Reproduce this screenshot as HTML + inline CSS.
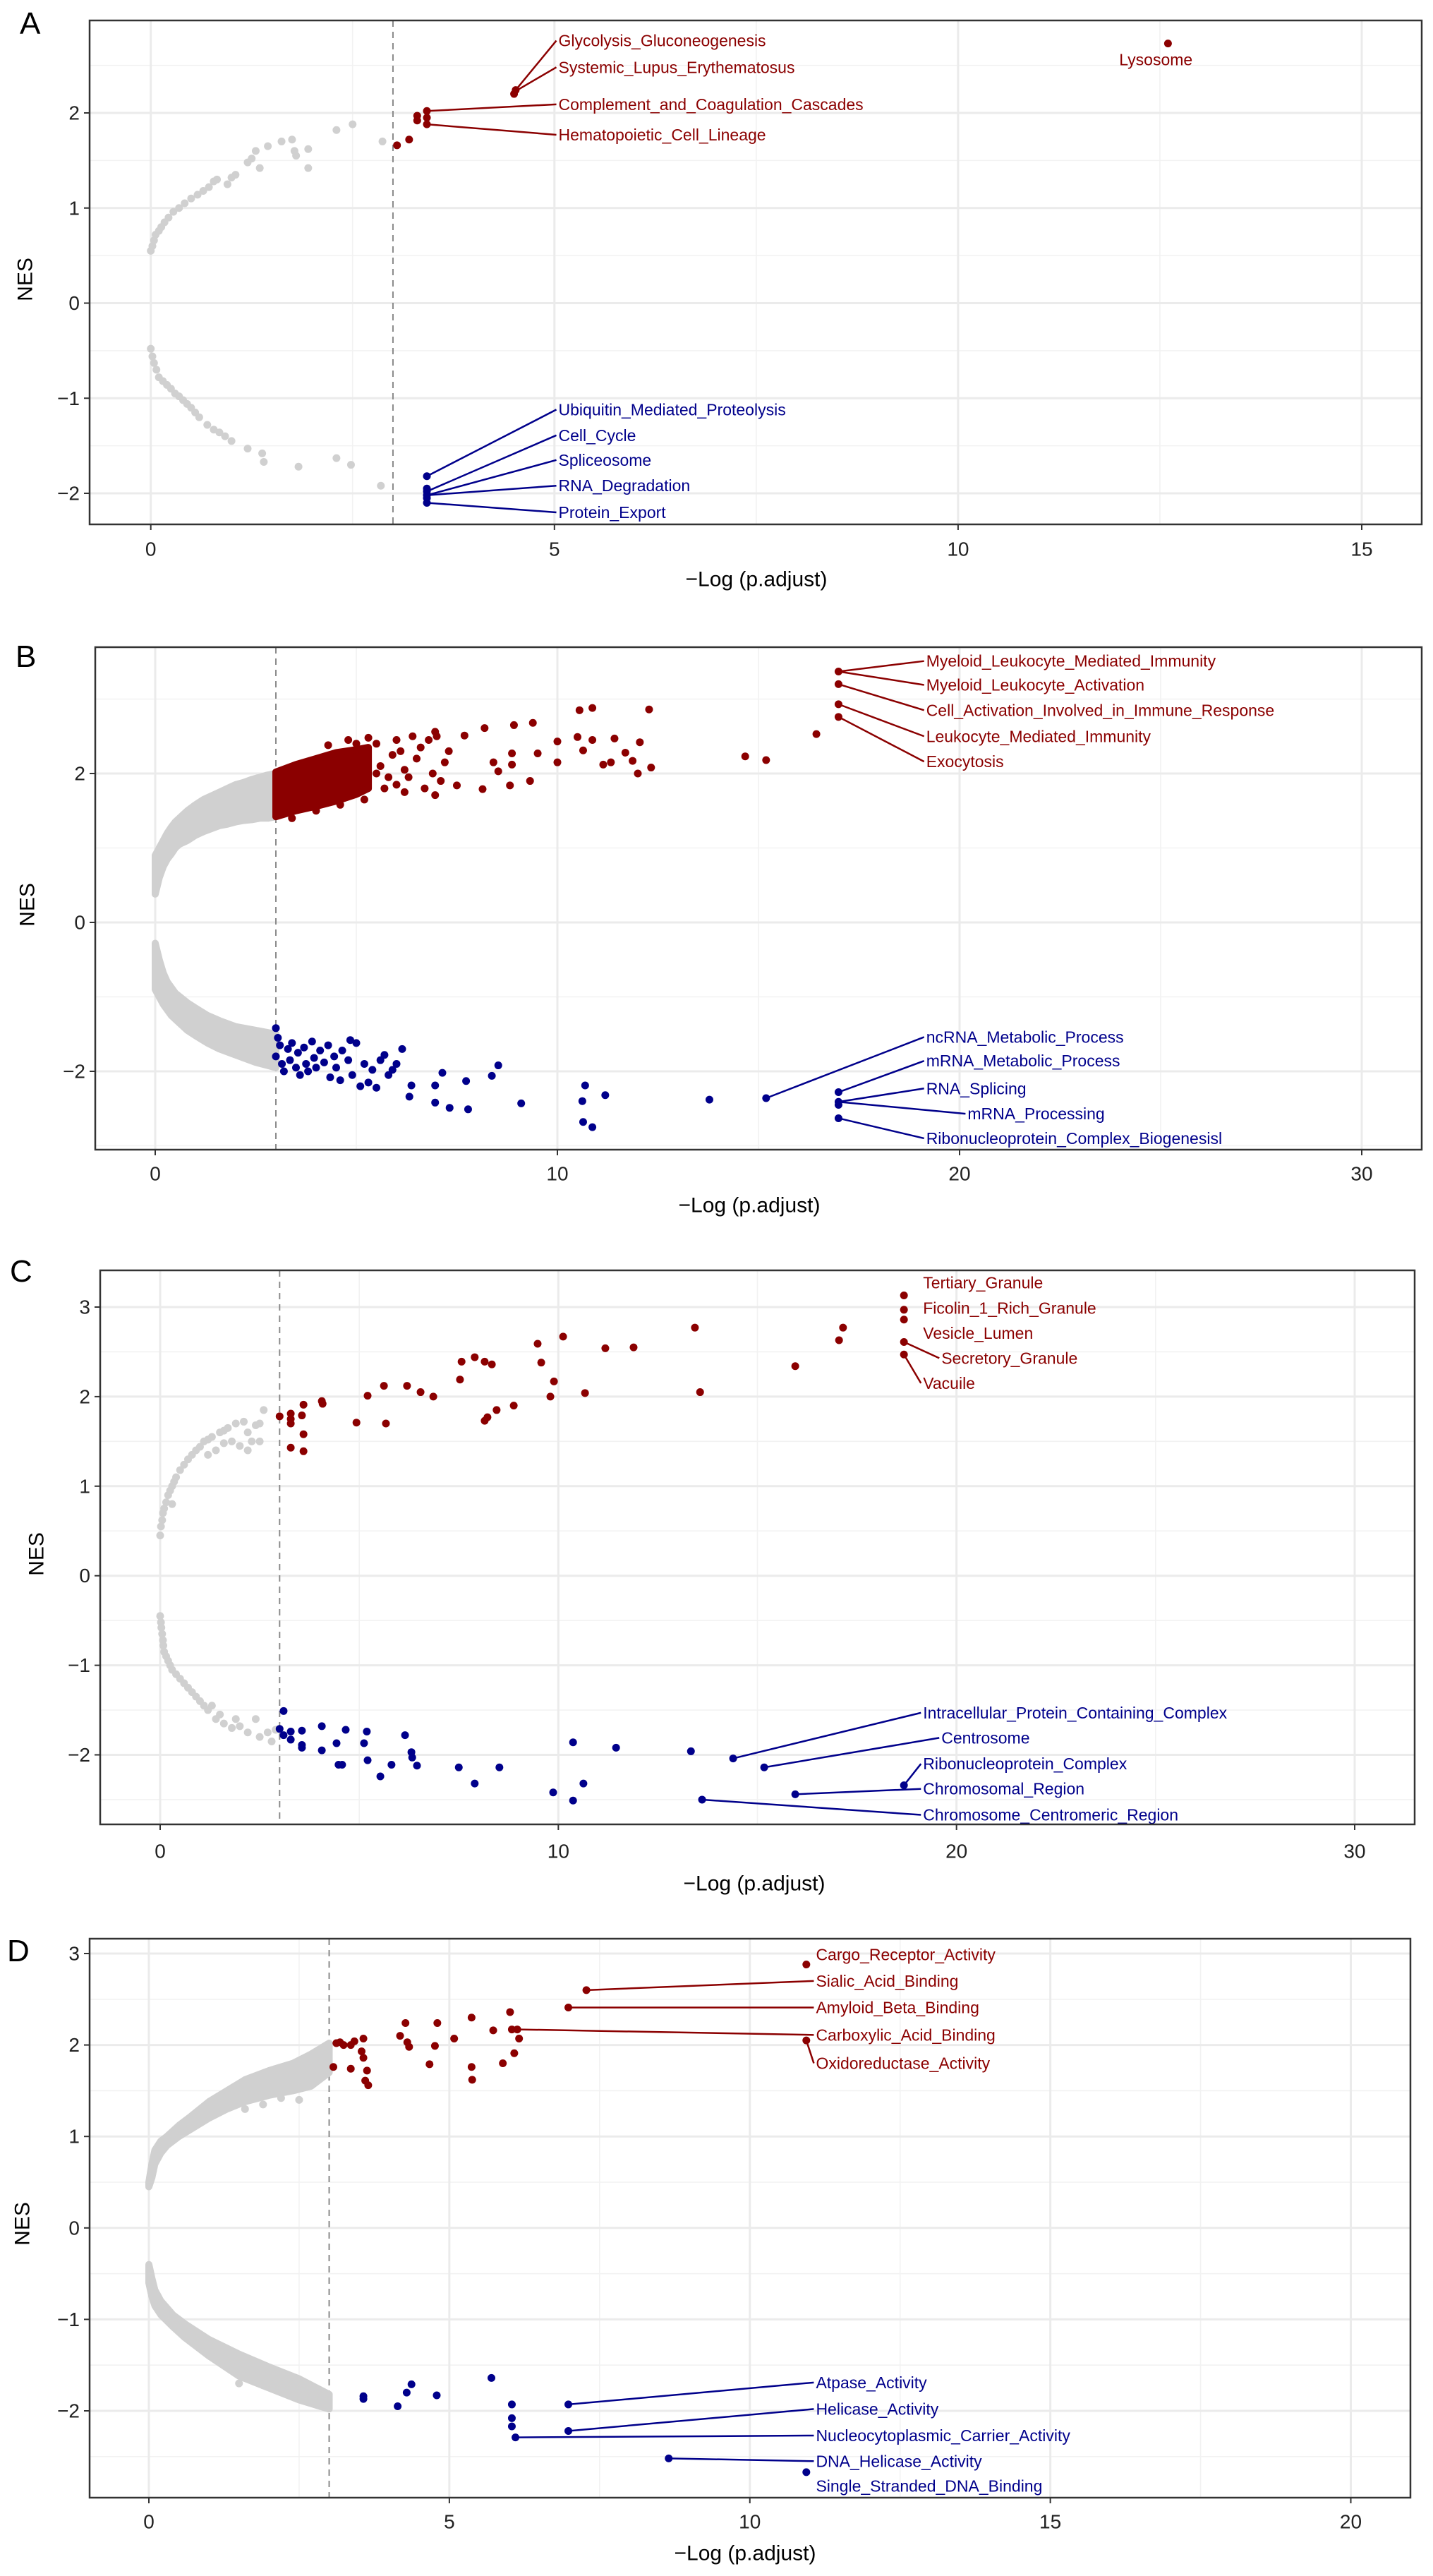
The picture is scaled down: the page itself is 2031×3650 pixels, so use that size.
<!DOCTYPE html>
<html><head><meta charset="utf-8">
<style>
html,body{margin:0;padding:0;background:#fff;}
svg{display:block;}
text{font-family:"Liberation Sans",Arial,sans-serif;}
</style></head>
<body>
<svg id="fig" xmlns="http://www.w3.org/2000/svg" width="2031" height="3650" viewBox="0 0 2031 3650">
<rect x="0" y="0" width="2031" height="3650" fill="#fff"/>
</svg>
<script>
// ---------- DATA: Panel A ----------
const A_greyPos=[[0,0.55],[0.02,0.6],[0.04,0.66],[0.06,0.72],[0.1,0.76],[0.13,0.8],[0.17,0.85],[0.22,0.9],[0.28,0.96],[0.35,1.0],[0.42,1.05],[0.5,1.1],[0.58,1.14],[0.65,1.18],[0.72,1.22],[0.78,1.28],[0.82,1.3],[0.95,1.25],[1.0,1.32],[1.05,1.35],[1.2,1.48],[1.25,1.52],[1.3,1.6],[1.35,1.42],[1.45,1.65],[1.62,1.7],[1.75,1.72],[1.78,1.6],[1.8,1.55],[1.95,1.62],[1.95,1.42],[2.3,1.82],[2.5,1.88],[2.87,1.7]];
const A_greyNeg=[[0,-0.48],[0.02,-0.56],[0.04,-0.63],[0.07,-0.7],[0.1,-0.78],[0.15,-0.82],[0.2,-0.86],[0.25,-0.9],[0.3,-0.95],[0.35,-0.98],[0.4,-1.02],[0.45,-1.06],[0.5,-1.1],[0.55,-1.15],[0.6,-1.2],[0.7,-1.28],[0.78,-1.33],[0.85,-1.36],[0.92,-1.4],[1.0,-1.45],[1.2,-1.53],[1.38,-1.58],[1.4,-1.67],[1.83,-1.72],[2.3,-1.63],[2.48,-1.7],[2.85,-1.92]];
const A_red=[[3.05,1.66],[3.2,1.72],[3.3,1.92],[3.3,1.97],[3.42,1.88],[3.42,1.95],[3.42,2.02],[4.5,2.2],[4.52,2.24],[12.6,2.73]];
const A_blue=[[3.42,-1.82],[3.42,-1.95],[3.42,-1.98],[3.42,-2.02],[3.42,-2.05],[3.42,-2.1]];
const A_labelNames=["Glycolysis_Gluconeogenesis","Systemic_Lupus_Erythematosus","Complement_and_Coagulation_Cascades","Hematopoietic_Cell_Lineage","Lysosome","Ubiquitin_Mediated_Proteolysis","Cell_Cycle","Spliceosome","RNA_Degradation","Protein_Export"];
const A_labelPos=[[5.05,2.76],[5.05,2.48],[5.05,2.09],[5.05,1.77],[12.45,2.56],[5.05,-1.12],[5.05,-1.39],[5.05,-1.65],[5.05,-1.92],[5.05,-2.2]];
const A_labelFrom=[[4.5,2.22],[4.5,2.22],[3.42,2.02],[3.42,1.88],null,[3.42,-1.82],[3.42,-1.98],[3.42,-2.02],[3.42,-2.02],[3.42,-2.1]];
const A_labelSide=["pos","pos","pos","pos","pos","neg","neg","neg","neg","neg"];

// ---------- DATA: Panel B ----------
const B_greyPosUpper=[[0,0.9],[0.1,1.0],[0.2,1.1],[0.3,1.2],[0.4,1.28],[0.5,1.35],[0.6,1.4],[0.8,1.5],[1.0,1.58],[1.2,1.65],[1.4,1.7],[1.6,1.75],[1.8,1.8],[2.0,1.85],[2.2,1.88],[2.4,1.92],[2.6,1.95],[2.8,1.98],[3.0,2.0]];
const B_greyPosLower=[[0,0.38],[0.1,0.6],[0.2,0.75],[0.3,0.85],[0.4,0.92],[0.5,1.0],[0.6,1.05],[0.8,1.1],[1.0,1.17],[1.2,1.22],[1.4,1.26],[1.6,1.3],[1.8,1.32],[2.0,1.35],[2.2,1.37],[2.4,1.38],[2.6,1.4],[2.8,1.4],[3.0,1.42]];
const B_greyNegUpper=[[0,-0.28],[0.1,-0.5],[0.2,-0.68],[0.3,-0.8],[0.5,-0.95],[0.8,-1.08],[1.0,-1.15],[1.3,-1.25],[1.6,-1.32],[2.0,-1.4],[2.5,-1.45],[3.0,-1.5]];
const B_greyNegLower=[[0,-0.9],[0.1,-1.0],[0.2,-1.1],[0.4,-1.25],[0.6,-1.35],[0.8,-1.45],[1.0,-1.52],[1.3,-1.62],[1.6,-1.7],[2.0,-1.78],[2.5,-1.88],[3.0,-1.95]];
const B_redBandUpper=[[3.0,2.02],[3.5,2.12],[4.0,2.2],[4.5,2.28],[5.0,2.32],[5.3,2.35]];
const B_redBandLower=[[3.0,1.42],[3.5,1.5],[4.0,1.56],[4.5,1.63],[5.0,1.72],[5.3,1.8]];
const B_red=[[6.96,2.56],[7.69,2.51],[8.19,2.61],[8.92,2.65],[9.39,2.68],[10.55,2.85],[10.87,2.88],[12.28,2.86],[10.0,2.43],[10.5,2.49],[10.87,2.45],[11.42,2.47],[12.05,2.42],[9.51,2.27],[10.64,2.31],[11.69,2.28],[11.87,2.17],[11.14,2.12],[11.33,2.15],[12.33,2.08],[12.0,2.0],[10.0,2.15],[8.87,2.27],[8.41,2.15],[8.87,2.12],[8.53,2.03],[8.82,1.84],[9.32,1.9],[8.14,1.79],[7.5,1.84],[6.96,1.71],[14.67,2.23],[15.19,2.18],[16.44,2.53],[16.99,3.37],[16.99,3.2],[16.99,2.93],[16.99,2.76],[5.5,2.4],[5.6,2.1],[5.8,1.95],[5.9,2.25],[6.0,2.45],[6.1,2.3],[6.2,2.05],[6.3,1.95],[5.3,2.48],[4.8,2.45],[4.3,2.38],[5.7,1.8],[6.4,2.5],[6.5,2.2],[5.2,1.65],[4.6,1.58],[6.6,2.35],[6.8,2.45],[7.0,2.5],[6.9,2.0],[7.1,1.9],[3.4,1.4],[4.0,1.5],[5.0,2.4],[6.2,1.75],[6.7,1.8],[7.3,2.3],[7.2,2.15],[5.5,2.0],[6.0,1.85]];
const B_blue=[[3.0,-1.42],[3.05,-1.55],[3.1,-1.65],[3.0,-1.8],[3.15,-1.9],[3.2,-2.0],[3.3,-1.7],[3.35,-1.85],[3.4,-1.62],[3.5,-1.95],[3.55,-1.75],[3.6,-2.05],[3.7,-1.68],[3.75,-1.9],[3.8,-2.0],[3.9,-1.6],[3.95,-1.82],[4.0,-1.95],[4.1,-1.72],[4.2,-1.88],[4.3,-1.65],[4.35,-2.08],[4.45,-1.8],[4.5,-1.95],[4.6,-2.12],[4.65,-1.72],[4.8,-1.85],[4.85,-1.58],[4.9,-2.05],[5.0,-1.62],[5.1,-2.2],[5.2,-1.9],[5.3,-2.15],[5.4,-1.98],[5.5,-2.22],[5.6,-1.85],[5.7,-1.78],[5.8,-2.05],[5.9,-1.98],[6.0,-1.9],[6.14,-1.70],[8.53,-1.92],[8.37,-2.06],[7.14,-2.02],[7.73,-2.13],[6.96,-2.19],[6.37,-2.19],[6.32,-2.34],[6.96,-2.42],[7.32,-2.49],[7.78,-2.51],[9.1,-2.43],[10.69,-2.19],[10.62,-2.40],[11.19,-2.32],[10.64,-2.68],[10.87,-2.75],[13.78,-2.38],[15.19,-2.36],[16.99,-2.28],[16.99,-2.41],[16.99,-2.45],[16.99,-2.63]];
const B_labelNames=["Myeloid_Leukocyte_Mediated_Immunity","Myeloid_Leukocyte_Activation","Cell_Activation_Involved_in_Immune_Response","Leukocyte_Mediated_Immunity","Exocytosis","ncRNA_Metabolic_Process","mRNA_Metabolic_Process","RNA_Splicing","mRNA_Processing","Ribonucleoprotein_Complex_Biogenesisl"];
const B_labelPos=[[19.17,3.51],[19.17,3.19],[19.17,2.85],[19.17,2.50],[19.17,2.16],[19.17,-1.54],[19.17,-1.86],[19.17,-2.23],[20.2,-2.57],[19.17,-2.90]];
const B_labelFrom=[[16.99,3.37],[16.99,3.37],[16.99,3.2],[16.99,2.93],[16.99,2.76],[15.19,-2.36],[16.99,-2.28],[16.99,-2.41],[16.99,-2.41],[16.99,-2.63]];
const B_labelSide=["pos","pos","pos","pos","pos","neg","neg","neg","neg","neg"];

// ---------- DATA: Panel C ----------
const C_greyPos=[[0,0.45],[0.02,0.55],[0.05,0.62],[0.07,0.7],[0.1,0.75],[0.15,0.82],[0.2,0.9],[0.25,0.95],[0.3,1.0],[0.35,1.05],[0.4,1.1],[0.5,1.18],[0.6,1.24],[0.7,1.3],[0.8,1.35],[0.9,1.4],[1.0,1.44],[1.1,1.5],[1.2,1.52],[1.3,1.55],[1.4,1.4],[1.5,1.6],[1.6,1.62],[1.7,1.65],[1.8,1.5],[1.9,1.7],[2.0,1.45],[2.1,1.72],[2.2,1.6],[2.3,1.5],[2.4,1.68],[2.5,1.7],[2.6,1.85],[2.5,1.5],[0.3,0.8],[1.2,1.35],[1.6,1.48],[2.2,1.4]];
const C_greyNeg=[[0,-0.45],[0.02,-0.52],[0.03,-0.58],[0.05,-0.65],[0.07,-0.72],[0.08,-0.78],[0.1,-0.85],[0.15,-0.9],[0.2,-0.95],[0.25,-1.0],[0.3,-1.05],[0.4,-1.1],[0.5,-1.15],[0.6,-1.2],[0.7,-1.25],[0.8,-1.3],[0.9,-1.35],[1.0,-1.4],[1.1,-1.45],[1.2,-1.5],[1.3,-1.45],[1.4,-1.6],[1.5,-1.55],[1.6,-1.65],[1.8,-1.7],[2.0,-1.68],[2.2,-1.75],[2.4,-1.6],[2.5,-1.8],[2.7,-1.75],[2.8,-1.85],[2.9,-1.72],[1.9,-1.6]];
const C_red=[[3.0,1.78],[3.28,1.75],[3.28,1.81],[3.56,1.79],[3.6,1.91],[3.28,1.70],[3.28,1.43],[3.6,1.39],[3.6,1.58],[4.06,1.95],[4.08,1.92],[4.93,1.71],[5.21,2.01],[5.62,2.12],[5.67,1.70],[6.2,2.12],[6.54,2.05],[6.86,2.0],[7.53,2.19],[7.57,2.39],[7.9,2.44],[8.15,2.39],[8.33,2.36],[8.15,1.73],[8.22,1.77],[8.45,1.85],[8.88,1.90],[9.48,2.59],[9.57,2.38],[9.8,2.0],[9.89,2.17],[10.12,2.67],[10.67,2.04],[11.18,2.54],[11.89,2.55],[13.43,2.77],[13.56,2.05],[15.95,2.34],[17.05,2.63],[17.15,2.77],[18.68,3.13],[18.68,2.97],[18.68,2.86],[18.68,2.61],[18.68,2.47]];
const C_blue=[[3.1,-1.51],[3.0,-1.71],[3.1,-1.78],[3.28,-1.83],[3.56,-1.73],[3.56,-1.89],[3.56,-1.92],[3.28,-1.74],[4.06,-1.68],[4.06,-1.95],[4.43,-1.87],[4.48,-2.11],[4.57,-2.11],[4.66,-1.72],[5.12,-1.87],[5.19,-1.74],[5.21,-2.06],[5.53,-2.24],[5.81,-2.11],[6.15,-1.78],[6.31,-1.97],[6.33,-2.03],[6.45,-2.12],[7.5,-2.14],[7.9,-2.32],[8.52,-2.14],[9.87,-2.42],[10.37,-1.86],[10.37,-2.51],[10.63,-2.32],[11.45,-1.92],[13.33,-1.96],[14.39,-2.04],[15.17,-2.14],[15.95,-2.44],[13.61,-2.50],[18.68,-2.34]];
const C_labelNames=["Tertiary_Granule","Ficolin_1_Rich_Granule","Vesicle_Lumen","Secretory_Granule","Vacuile","Intracellular_Protein_Containing_Complex","Centrosome","Ribonucleoprotein_Complex","Chromosomal_Region","Chromosome_Centromeric_Region"];
const C_labelPos=[[19.16,3.27],[19.16,2.99],[19.16,2.71],[19.62,2.43],[19.16,2.15],[19.16,-1.53],[19.62,-1.81],[19.16,-2.10],[19.16,-2.38],[19.16,-2.67]];
const C_labelFrom=[null,null,null,[18.68,2.61],[18.68,2.47],[14.39,-2.04],[15.17,-2.14],[18.68,-2.34],[15.95,-2.44],[13.61,-2.50]];
const C_labelSide=["pos","pos","pos","pos","pos","neg","neg","neg","neg","neg"];

// ---------- DATA: Panel D ----------
const D_greyPosUpper=[[0,0.5],[0.05,0.7],[0.1,0.85],[0.2,0.95],[0.3,1.0],[0.5,1.12],[0.7,1.22],[1.0,1.38],[1.3,1.5],[1.6,1.62],[2.0,1.72],[2.4,1.8],[2.7,1.9],[3.0,2.02]];
const D_greyPosLower=[[0,0.45],[0.05,0.55],[0.1,0.7],[0.2,0.82],[0.3,0.9],[0.5,1.0],[0.7,1.08],[1.0,1.2],[1.3,1.3],[1.6,1.38],[2.0,1.45],[2.4,1.5],[2.7,1.55],[3.0,1.7]];
const D_greyNegUpper=[[0,-0.4],[0.05,-0.55],[0.1,-0.68],[0.2,-0.8],[0.4,-0.95],[0.6,-1.05],[1.0,-1.22],[1.5,-1.38],[2.0,-1.52],[2.5,-1.65],[3.0,-1.82]];
const D_greyNegLower=[[0,-0.6],[0.05,-0.75],[0.1,-0.85],[0.2,-0.95],[0.4,-1.08],[0.6,-1.2],[1.0,-1.4],[1.5,-1.62],[2.0,-1.75],[2.5,-1.88],[3.0,-1.98]];
const D_greyPts=[[1.6,1.3],[1.9,1.35],[2.2,1.42],[2.5,1.4],[2.6,1.55],[1.5,-1.7],[1.9,-1.72],[2.3,-1.7],[2.6,-1.85]];
const D_red=[[3.07,1.76],[3.12,2.02],[3.18,2.03],[3.24,2.0],[3.36,2.0],[3.36,1.74],[3.42,2.04],[3.54,1.93],[3.57,1.86],[3.57,2.07],[3.6,1.61],[3.63,1.72],[3.65,1.56],[4.18,2.10],[4.27,2.24],[4.3,2.03],[4.33,1.98],[4.67,1.79],[4.76,1.99],[4.8,2.24],[5.08,2.07],[5.37,2.30],[5.37,1.76],[5.38,1.62],[5.73,2.16],[5.89,1.80],[6.01,2.36],[6.04,2.17],[6.08,1.91],[6.16,2.07],[6.13,2.17],[6.98,2.41],[7.28,2.60],[10.94,2.88],[10.94,2.05]];
const D_blue=[[3.57,-1.84],[3.57,-1.87],[4.14,-1.95],[4.29,-1.80],[4.37,-1.71],[4.79,-1.83],[5.70,-1.64],[6.04,-1.93],[6.04,-2.08],[6.04,-2.17],[6.1,-2.29],[6.98,-1.93],[6.98,-2.22],[8.65,-2.52],[10.94,-2.67]];
const D_labelNames=["Cargo_Receptor_Activity","Sialic_Acid_Binding","Amyloid_Beta_Binding","Carboxylic_Acid_Binding","Oxidoreductase_Activity","Atpase_Activity","Helicase_Activity","Nucleocytoplasmic_Carrier_Activity","DNA_Helicase_Activity","Single_Stranded_DNA_Binding"];
const D_labelPos=[[11.1,2.99],[11.1,2.70],[11.1,2.41],[11.1,2.11],[11.1,1.80],[11.1,-1.69],[11.1,-1.98],[11.1,-2.27],[11.1,-2.55],[11.1,-2.82]];
const D_labelFrom=[null,[7.28,2.60],[6.98,2.41],[6.16,2.17],[10.94,2.05],[6.98,-1.93],[6.98,-2.22],[6.1,-2.29],[8.65,-2.52],null];
const D_labelSide=["pos","pos","pos","pos","pos","neg","neg","neg","neg","neg"];

// ---------- Shared ticks ----------
const A_xTicks=[0,5,10,15], A_yTicks=[-2,-1,0,1,2];
const B_xTicks=[0,10,20,30], B_yTicks=[-2,0,2];
const C_xTicks=[0,10,20,30], C_yTicks=[-2,-1,0,1,2,3];
const D_xTicks=[0,5,10,15,20], D_yTicks=[-2,-1,0,1,2,3];

// ---------- Layout (pixels, not data) ----------
const NS="http://www.w3.org/2000/svg";
const svg=document.getElementById('fig');
const RED="#8b0000", BLUE="#00008b", GREY="#d0d0d0";
function mk(tag,attrs,parent){const e=document.createElementNS(NS,tag);for(const k in attrs)e.setAttribute(k,attrs[k]);(parent||svg).appendChild(e);return e;}

function panel(cfg){
  const g=mk('g',{});
  
  
  const sx=v=>cfg.px0+(v-cfg.vx0)*(cfg.px1-cfg.px0)/(cfg.vx1-cfg.vx0);
  const sy=v=>cfg.py0+(v-cfg.vy0)*(cfg.py1-cfg.py0)/(cfg.vy1-cfg.vy0);
  const L=cfg.left,R=cfg.right,T=cfg.top,B=cfg.bottom;
  const xmin=cfg.vx0+(L-cfg.px0)*(cfg.vx1-cfg.vx0)/(cfg.px1-cfg.px0);
  const xmax=cfg.vx0+(R-cfg.px0)*(cfg.vx1-cfg.vx0)/(cfg.px1-cfg.px0);
  const ymax=cfg.vy0+(T-cfg.py0)*(cfg.vy1-cfg.vy0)/(cfg.py1-cfg.py0);
  const ymin=cfg.vy0+(B-cfg.py0)*(cfg.vy1-cfg.vy0)/(cfg.py1-cfg.py0);
  // grid minor
  const xs=cfg.xTicks, ys=cfg.yTicks;
  const xstep=xs[1]-xs[0], ystep=ys[1]-ys[0];
  for(let v=xs[0]-xstep/2; v<=xmax; v+=xstep){ if(v<xmin) continue;
    const l=mk('line',{x1:sx(v),x2:sx(v),y1:T,y2:B,stroke:'#f2f2f2','stroke-width':1.6},g);
    
    }
  for(let v=ys[0]-ystep/2; v<=ymax; v+=ystep){ if(v<ymin) continue;
    const l=mk('line',{x1:L,x2:R,y1:sy(v),y2:sy(v),stroke:'#f2f2f2','stroke-width':1.6},g);
    
    }
  xs.forEach(v=>{const l=mk('line',{x1:sx(v),x2:sx(v),y1:T,y2:B,stroke:'#ebebeb','stroke-width':3},g);
    
    
    const t=mk('line',{x1:sx(v),x2:sx(v),y1:B,y2:B+8,stroke:'#333','stroke-width':2},g);
    
    
    const tx=mk('text',{x:sx(v),y:cfg.xLabY,'text-anchor':'middle','dominant-baseline':'central','font-size':28,fill:'#222'},g);
    tx.textContent=v;
    
    });
  ys.forEach(v=>{const l=mk('line',{x1:L,x2:R,y1:sy(v),y2:sy(v),stroke:'#ebebeb','stroke-width':3},g);
    
    
    const t=mk('line',{x1:L-8,x2:L,y1:sy(v),y2:sy(v),stroke:'#333','stroke-width':2},g);
    
    
    const tx=mk('text',{x:L-14,y:sy(v),'text-anchor':'end','dominant-baseline':'central','font-size':28,fill:'#222'},g);
    tx.textContent=(v<0?'\u2212'+(-v):v);
    
    });
  // threshold
  const d=mk('line',{x1:sx(3),x2:sx(3),y1:T,y2:B,stroke:'#8a8a8a','stroke-width':2,'stroke-dasharray':'9,7'},g);
  
  
  // bands
  (cfg.bands||[]).forEach(b=>{
    const pts=b.up.map(p=>sx(p[0])+','+sy(p[1])).concat(b.lo.slice().reverse().map(p=>sx(p[0])+','+sy(p[1])));
    const pg=mk('polygon',{points:pts.join(' '),fill:b.color,stroke:b.color,'stroke-width':10,'stroke-linejoin':'round'},g);
    
    
  });
  // points
  cfg.series.forEach(s=>{s.data.forEach(p=>{
    const c=mk('circle',{cx:sx(p[0]),cy:sy(p[1]),r:5.5,fill:s.color},g);
    
    
  });});
  // labels
  cfg.labels.forEach((nm,i)=>{
    const pos=cfg.labelPos[i], from=cfg.labelFrom[i];
    const col=cfg.labelSide[i]==='pos'?RED:BLUE;
    if(from){const ln=mk('line',{x1:sx(from[0]),y1:sy(from[1]),x2:sx(pos[0])-3,y2:sy(pos[1]),stroke:col,'stroke-width':2.5},g);
      
      }
    const anchor=from||cfg.id!=='A'||nm!=='Lysosome'?'start':'middle';
    const t=mk('text',{x:sx(pos[0]),y:sy(pos[1]),'text-anchor':anchor,'dominant-baseline':'central','font-size':23,fill:col},g);
    t.textContent=nm;
    
    
  });
  // border
  const r=mk('rect',{x:L,y:T,width:R-L,height:B-T,fill:'none',stroke:'#333','stroke-width':2.5},g);
  
  
  const xt=mk('text',{x:cfg.xTitle[0],y:cfg.xTitle[1],'text-anchor':'middle','dominant-baseline':'central','font-size':30,fill:'#000'},g);
  xt.textContent='\u2212Log (p.adjust)';
  
  
  const yt=mk('text',{x:cfg.yTitle[0],y:cfg.yTitle[1],'text-anchor':'middle','dominant-baseline':'central','font-size':30,fill:'#000',transform:'rotate(-90 '+cfg.yTitle[0]+' '+cfg.yTitle[1]+')'},g);
  yt.textContent='NES';
  
  
  const pl=mk('text',{x:cfg.letter[0],y:cfg.letter[1],'font-size':44,fill:'#000'},g);
  pl.textContent=cfg.id;
  
  
}

panel({id:'A',left:127,right:2015,top:29,bottom:743,px0:213.7,px1:1930,vx0:0,vx1:15,py0:160,py1:699,vy0:2,vy1:-2,
  xTicks:A_xTicks,yTicks:A_yTicks,xLabY:778,xTitle:[1072,821],yTitle:[36,396],letter:[28,48],
  series:[{data:A_greyPos,color:GREY,name:'nonsignificant-point'},{data:A_greyNeg,color:GREY,name:'nonsignificant-point'},{data:A_red,color:RED,name:'upregulated-point'},{data:A_blue,color:BLUE,name:'downregulated-point'}],
  labels:A_labelNames,labelPos:A_labelPos,labelFrom:A_labelFrom,labelSide:A_labelSide});

panel({id:'B',left:135,right:2015,top:917,bottom:1629,px0:220,px1:1930,vx0:0,vx1:30,py0:1096,py1:1518,vy0:2,vy1:-2,
  xTicks:B_xTicks,yTicks:B_yTicks,xLabY:1663,xTitle:[1062,1708],yTitle:[39,1282],letter:[22,945],
  bands:[{up:B_greyPosUpper,lo:B_greyPosLower,color:GREY,name:'nonsignificant-band'},{up:B_greyNegUpper,lo:B_greyNegLower,color:GREY,name:'nonsignificant-band'},{up:B_redBandUpper,lo:B_redBandLower,color:RED,name:'upregulated-cluster'}],
  series:[{data:B_red,color:RED,name:'upregulated-point'},{data:B_blue,color:BLUE,name:'downregulated-point'}],
  labels:B_labelNames,labelPos:B_labelPos,labelFrom:B_labelFrom,labelSide:B_labelSide});

panel({id:'C',left:142,right:2005,top:1800,bottom:2585,px0:227,px1:1920,vx0:0,vx1:30,py0:1852,py1:2486.5,vy0:3,vy1:-2,
  xTicks:C_xTicks,yTicks:C_yTicks,xLabY:2623,xTitle:[1069,2669],yTitle:[52,2202],letter:[14,1816],
  series:[{data:C_greyPos,color:GREY,name:'nonsignificant-point'},{data:C_greyNeg,color:GREY,name:'nonsignificant-point'},{data:C_red,color:RED,name:'upregulated-point'},{data:C_blue,color:BLUE,name:'downregulated-point'}],
  labels:C_labelNames,labelPos:C_labelPos,labelFrom:C_labelFrom,labelSide:C_labelSide});

panel({id:'D',left:127,right:1999,top:2747,bottom:3539,px0:211,px1:1914.5,vx0:0,vx1:20,py0:2768,py1:3416,vy0:3,vy1:-2,
  xTicks:D_xTicks,yTicks:D_yTicks,xLabY:3573,xTitle:[1056,3618],yTitle:[32,3151],letter:[10,2779],
  bands:[{up:D_greyPosUpper,lo:D_greyPosLower,color:GREY,name:'nonsignificant-band'},{up:D_greyNegUpper,lo:D_greyNegLower,color:GREY,name:'nonsignificant-band'}],
  series:[{data:D_greyPts,color:GREY,name:'nonsignificant-point'},{data:D_red,color:RED,name:'upregulated-point'},{data:D_blue,color:BLUE,name:'downregulated-point'}],
  labels:D_labelNames,labelPos:D_labelPos,labelFrom:D_labelFrom,labelSide:D_labelSide});
</script>
</body></html>
